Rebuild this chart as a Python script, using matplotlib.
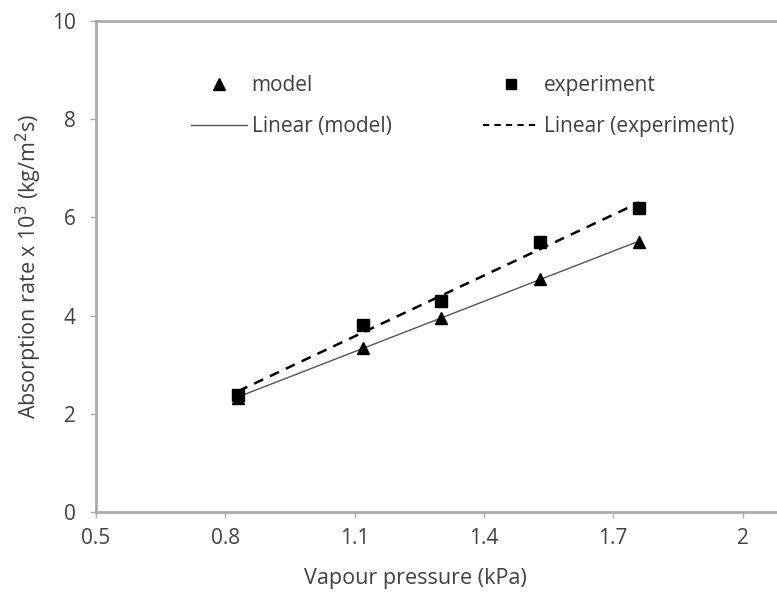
import matplotlib
matplotlib.use('Agg')
import matplotlib.pyplot as plt
from matplotlib.lines import Line2D
import numpy as np

# Vapour pressure (kPa) and absorption rate x 10^3 (kg/m2s)
pressure = [0.83, 1.12, 1.30, 1.53, 1.76]
model = [2.33, 3.35, 3.95, 4.75, 5.50]
experiment = [2.38, 3.80, 4.30, 5.50, 6.20]

x_ticks = [0.5, 0.8, 1.1, 1.4, 1.7, 2.0]
x_tick_labels = ['0.5', '0.8', '1.1', '1.4', '1.7', '2']
y_ticks = [0, 2, 4, 6, 8, 10]

plt.rcParams['font.family'] = ['Open Sans', 'DejaVu Sans']
text_col = '#404040'
axis_col = '#ababab'
fs = 15

fig = plt.figure(figsize=(7.77, 5.95), dpi=100)
ax = fig.add_axes([0.1236, 0.1395, 0.8875, 0.8252])

ax.plot(pressure, model, linestyle='none', marker='^', markersize=9,
        color='black', zorder=4)
ax.plot(pressure, experiment, linestyle='none', marker='s', markersize=8,
        color='black', zorder=4)

# least-squares trendlines over the measured range
xs = np.array([min(pressure), max(pressure)])
m_fit = np.polyfit(pressure, model, 1)
e_fit = np.polyfit(pressure, experiment, 1)
ax.plot(xs, np.polyval(m_fit, xs), color='#555555', linewidth=1.0, zorder=3)
ax.plot(xs, np.polyval(e_fit, xs), color='black', linewidth=1.8,
        dashes=(4, 3), zorder=3)

ax.set_xlim(0.5, 2.1)
ax.set_ylim(0, 10)
ax.set_xticks(x_ticks)
ax.set_xticklabels(x_tick_labels)
ax.set_yticks(y_ticks)
ax.tick_params(direction='out', length=4.5, width=1, color=axis_col,
               labelcolor=text_col, labelsize=fs)
ax.tick_params(axis='y', pad=10)
ax.tick_params(axis='x', pad=7)

for side in ['left', 'bottom', 'top']:
    ax.spines[side].set_color(axis_col)
    ax.spines[side].set_linewidth(2)
ax.spines['right'].set_visible(False)

ax.set_xlabel('Vapour pressure (kPa)', color=text_col, fontsize=15.5)
ax.xaxis.set_label_coords(0.4626, -0.115)
ax.set_ylabel('Absorption rate x 10$^3$ (kg/m$^2$s)', color=text_col,
              fontsize=15.5, labelpad=6)

handles = [
    Line2D([], [], linestyle='none', marker='^', markersize=8, color='black'),
    Line2D([], [], color='#555555', linewidth=1.0),
    Line2D([], [], linestyle='none', marker='s', markersize=7, color='black'),
    Line2D([], [], color='black', linewidth=1.5, dashes=(3, 2.5)),
]
labels = ['model', 'Linear (model)', 'experiment', 'Linear (experiment)']
leg = ax.legend(handles, labels, ncol=2, frameon=False, fontsize=fs,
                loc='upper left', bbox_to_anchor=(0.111, 0.928),
                handlelength=2.65, handletextpad=0.25, columnspacing=4.4,
                labelspacing=0.95)
for t in leg.get_texts():
    t.set_color(text_col)

fig.savefig('out.png', dpi=100, facecolor='white')
